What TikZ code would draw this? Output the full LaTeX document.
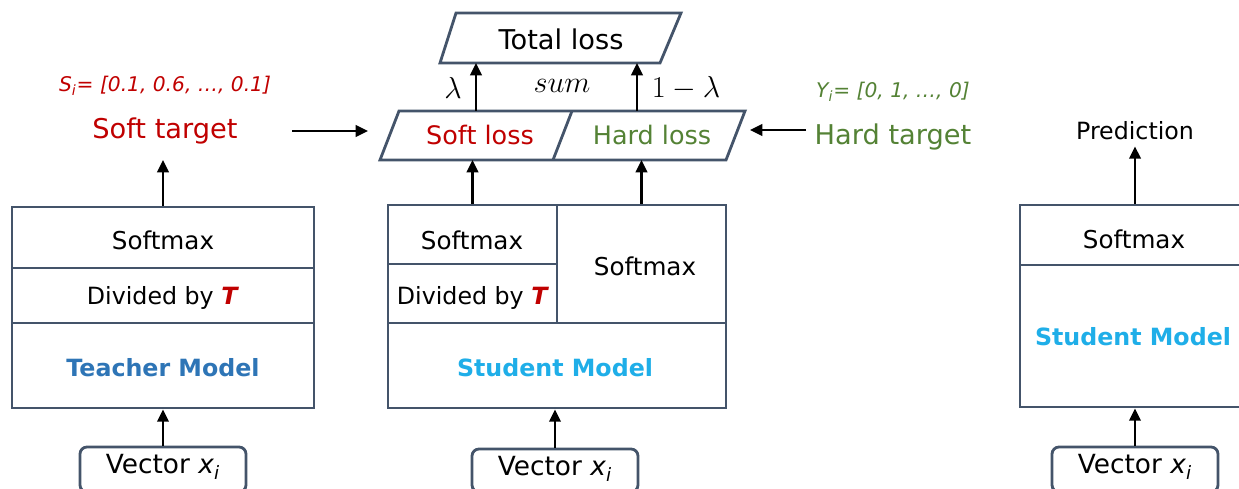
\documentclass[tikz,border=0pt]{standalone}
\usepackage{fontspec}
\setmainfont{DejaVu Sans}
\usetikzlibrary{arrows.meta,fit}

\definecolor{boxline}{HTML}{44546A}
\definecolor{softred}{HTML}{C00000}
\definecolor{hardgreen}{HTML}{548235}
\definecolor{teachblue}{HTML}{2E75B6}
\definecolor{studblue}{HTML}{1FAEE8}

\tikzset{
  cell/.style={draw=boxline,line width=1.6pt,inner sep=0pt},
  vecbox/.style={cell,rounded corners=4pt},
  lossline/.style={draw=boxline,line width=1.6pt},
  arr/.style={-{Triangle[length=7pt,width=6.5pt]},line width=1.4pt},
  celltxt/.style={font=\fontsize{14}{16}\selectfont},
  divtxt/.style={font=\fontsize{13.5}{16}\selectfont},
  modeltxt/.style={font=\fontsize{13.5}{16}\selectfont\bfseries},
  vectxt/.style={font=\fontsize{15}{17}\selectfont},
  bigtxt/.style={font=\fontsize{15.5}{18}\selectfont},
  losstxt/.style={font=\fontsize{14.5}{17}\selectfont},
  mathtxt/.style={font=\fontsize{16}{18}\selectfont},
  smalltxt/.style={font=\fontsize{11.5}{13}\selectfont\itshape},
}

\newcommand{\vecx}{Vector \textit{x}\textsubscript{\textit{i}}}
\newcommand{\bigT}{\textcolor{softred}{\textbf{\textit{T}}}}

\begin{document}
\begin{tikzpicture}[x=0.02cm,y=-0.02cm]

\useasboundingbox (0,0) rectangle (1239,489) ;
\clip (0,0) rectangle (1239,489) ;

\node[cell,fit={(12,207) (314,268)}] (tsoft) {} ;
\node[cell,fit={(12,268) (314,323)}] (tdiv) {} ;
\node[cell,fit={(12,323) (314,408)}] (tmodel) {} ;
\node[vecbox,fit={(80,447) (246,492)}] (tvec) {} ;
\node[celltxt] at (163,240) {Softmax} ;
\node[divtxt] at (163,298) {Divided by \bigT} ;
\node[modeltxt,text=teachblue] at (163,368) {Teacher Model} ;
\node[vectxt] at (163,467) {\vecx} ;

\node[bigtxt,text=softred] (stgt) at (165,131) {Soft target} ;
\node[smalltxt,text=softred] (slab) at (165,86) {S\textsubscript{i}= [0.1, 0.6, \dots, 0.1]} ;
\coordinate (stbot) at (0,160) ;

\draw[arr] (tvec) -- (tmodel) ;
\draw[arr] (tsoft.north) -- (tsoft.north |- stbot) ;

\node[cell,fit={(388,205) (557,264)}] (ssoft) {} ;
\node[cell,fit={(388,264) (557,323)}] (sdiv) {} ;
\node[cell,fit={(557,205) (726,323)}] (shard) {} ;
\node[cell,fit={(388,323) (726,408)}] (smodel) {} ;
\node[vecbox,fit={(472,449) (638,492)}] (svec) {} ;
\node[celltxt] at (472,240) {Softmax} ;
\node[divtxt] at (473,298) {Divided by \bigT} ;
\node[celltxt] at (645,266) {Softmax} ;
\node[modeltxt,text=studblue] at (555,368) {Student Model} ;
\node[vectxt] at (555,469) {\vecx} ;

\draw[arr] (svec.north) -- (svec.north |- smodel.south) ;

\draw[lossline] (380,160) -- (399,111) -- (745,111) -- (726,160) -- cycle ;
\draw[lossline] (572,111) -- (553,160) ;
\node[losstxt,text=softred] (sloss) at (480,135) {Soft loss} ;
\node[losstxt,text=hardgreen] (hloss) at (652,135) {Hard loss} ;
\coordinate (lossbot) at (0,160) ;

\draw[lossline] (440,63) -- (456,13) -- (681,13) -- (660,63) -- cycle ;
\node[bigtxt] (total) at (561,39) {Total loss} ;
\coordinate (totbot) at (0,63) ;

\draw[arr] (ssoft.north) -- (ssoft.north |- lossbot) ;
\draw[arr] (shard.north) -- (shard.north |- lossbot) ;

\coordinate (la) at (476,111) ;
\coordinate (lb) at (637,111) ;
\draw[arr] (la) -- (la |- totbot) ;
\draw[arr] (lb) -- (lb |- totbot) ;
\node[mathtxt] (lam) at (453,88) {$\lambda$} ;
\node[mathtxt] (sum) at (562,86) {$sum$} ;
\node[mathtxt] (lamc) at (686,88) {$1-\lambda$} ;

\coordinate (sfrom) at (292,131) ;
\coordinate (sto) at (368,131) ;
\draw[arr] (sfrom) -- (sto) ;

\node[bigtxt,text=hardgreen] (htgt) at (893,137) {Hard target} ;
\node[smalltxt,text=hardgreen] (hlab) at (893,92) {Y\textsubscript{i}= [0, 1, \dots, 0]} ;
\coordinate (hfrom) at (806,130) ;
\coordinate (hto) at (750,130) ;
\draw[arr] (hfrom) -- (hto) ;

\node[cell,fit={(1020,205) (1250,265)}] (psoft) {} ;
\node[cell,fit={(1020,265) (1250,407)}] (pmodel) {} ;
\node[vecbox,fit={(1052,447) (1218,492)}] (pvec) {} ;
\node[celltxt] at (1134,239) {Softmax} ;
\node[modeltxt,text=studblue] at (1133,337) {Student Model} ;
\node[vectxt] at (1135,467) {\vecx} ;
\node[font=\fontsize{13.5}{16}\selectfont] (pred) at (1135,131) {Prediction} ;

\draw[arr] (pvec) -- (pvec |- pmodel.south) ;
\draw[arr] (psoft.north) -- (pred) ;

\end{tikzpicture}
\end{document}
